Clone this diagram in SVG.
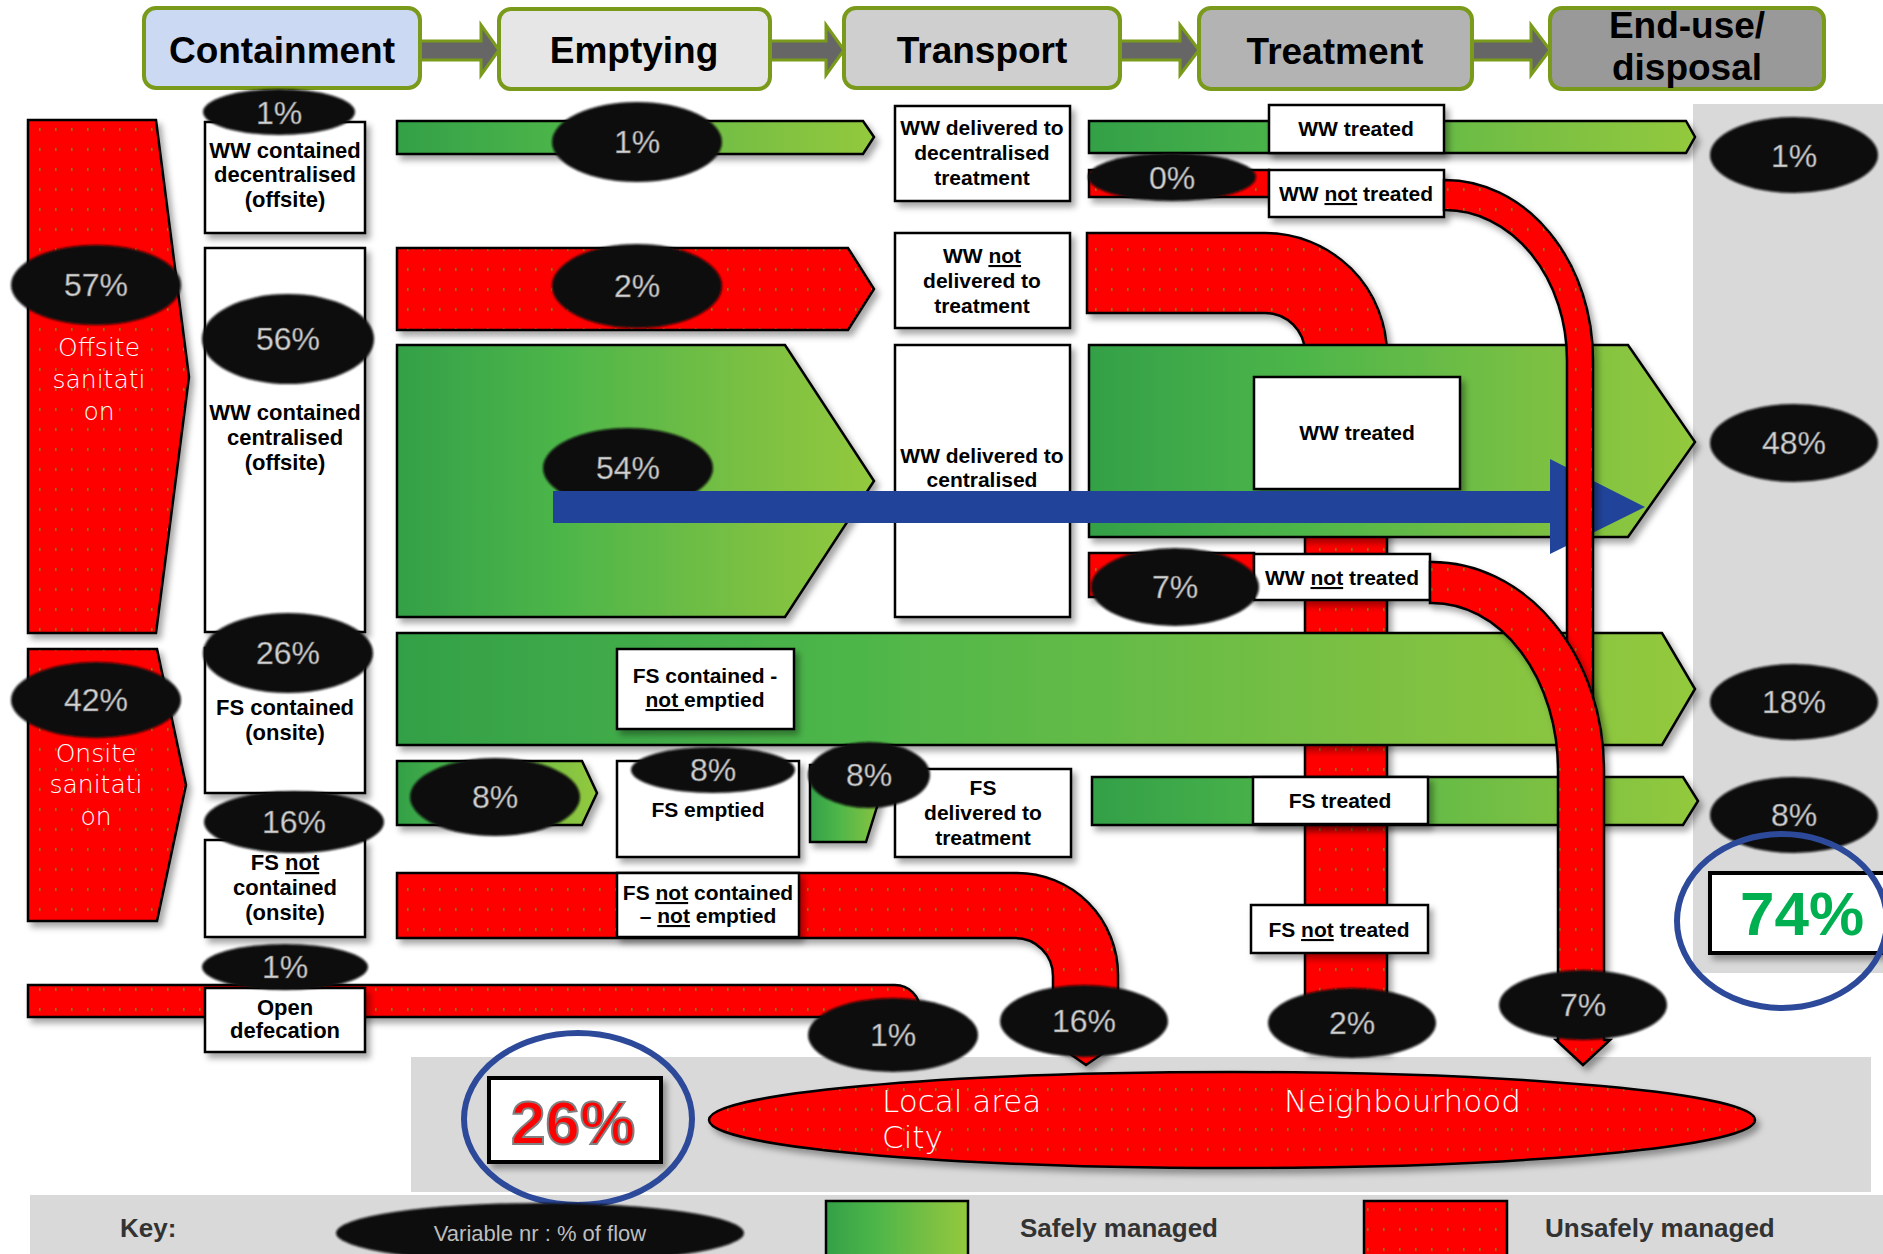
<svg xmlns="http://www.w3.org/2000/svg" width="1883" height="1254" viewBox="0 0 1883 1254">
<defs>
<style>
.hdr{stroke:#7A9A1B;stroke-width:4}
.htxt{font-family:"Liberation Sans",Arial,sans-serif;font-weight:bold;font-size:37px;fill:#000;text-anchor:middle}
.box{fill:#fff;stroke:#000;stroke-width:2.5;filter:url(#sh)}
.lbl{font-family:"Liberation Sans",Arial,sans-serif;font-weight:bold;font-size:21px;fill:#000;text-anchor:middle}
.lbl22{font-family:"Liberation Sans",Arial,sans-serif;font-weight:bold;font-size:22px;fill:#000;text-anchor:middle}
.red{fill:url(#dots);stroke:#000;stroke-width:2.5;filter:url(#sh)}
.grn{fill:url(#gg);stroke:#000;stroke-width:2.5;filter:url(#sh)}
.ell{fill:#0a0a0a;filter:url(#blur)}
.pct{font-family:"Liberation Sans",Arial,sans-serif;font-size:32px;fill:#d2d2d2;text-anchor:middle;stroke:#6a6a6a;stroke-width:0.6}
.wht{font-family:"DejaVu Sans",sans-serif;font-weight:200;fill:#fff}
.u{text-decoration:underline}
.keyt{font-family:"Liberation Sans",Arial,sans-serif;font-weight:bold;font-size:26px;fill:#333}
.ring{fill:none;stroke:#2D4A9A;stroke-width:6}
</style>
<filter id="sh" x="-10%" y="-10%" width="130%" height="150%"><feDropShadow dx="4" dy="5" stdDeviation="3" flood-color="#000" flood-opacity="0.35"/></filter>
<filter id="blur" x="-10%" y="-20%" width="120%" height="150%"><feGaussianBlur stdDeviation="1.3"/></filter>
<linearGradient id="gg" x1="0" y1="0" x2="1" y2="0"><stop offset="0" stop-color="#33A047"/><stop offset="0.35" stop-color="#4DB649"/><stop offset="0.75" stop-color="#7CC043"/><stop offset="1" stop-color="#93C93D"/></linearGradient>
<pattern id="dots" width="16" height="20" patternUnits="userSpaceOnUse"><rect width="16" height="20" fill="#FF0000"/><rect x="7" y="8" width="1.6" height="3" fill="#8A7A14"/></pattern>
</defs>

<g id="panels">
<rect x="1693" y="104" width="190" height="869" fill="#D9D9D9"/>
<rect x="411" y="1057" width="1460" height="135" fill="#D9D9D9"/>
<rect x="30" y="1195" width="1853" height="59" fill="#D9D9D9"/>
</g>

<g id="connectors" fill="#666" stroke="#7A9A1B" stroke-width="3">
<polygon points="420,41 481,41 481,25 499,50 481,75 481,60 420,60"/>
<polygon points="770,41 826,41 826,25 844,50 826,75 826,60 770,60"/>
<polygon points="1120,41 1180,41 1180,25 1199,50 1180,75 1180,60 1120,60"/>
<polygon points="1472,41 1531,41 1531,25 1550,50 1531,75 1531,60 1472,60"/>
</g>

<g id="hdr-containment"><rect x="144" y="8" width="276" height="80" rx="12" fill="#CCD9F2" class="hdr"/><text x="282" y="63" class="htxt">Containment</text></g>
<g id="hdr-emptying"><rect x="499" y="9" width="271" height="80" rx="12" fill="#E6E6E6" class="hdr"/><text x="634" y="63" class="htxt">Emptying</text></g>
<g id="hdr-transport"><rect x="844" y="8" width="276" height="80" rx="12" fill="#CFCFCF" class="hdr"/><text x="982" y="63" class="htxt">Transport</text></g>
<g id="hdr-treatment"><rect x="1199" y="8" width="273" height="81" rx="12" fill="#B3B3B3" class="hdr"/><text x="1335" y="64" class="htxt">Treatment</text></g>
<g id="hdr-enduse"><rect x="1550" y="8" width="274" height="81" rx="12" fill="#999999" class="hdr"/><text class="htxt" font-size="36"><tspan x="1687" y="38">End-use/</tspan><tspan x="1687" y="80">disposal</tspan></text></g>

<g id="flow-ww-not-delivered"><path class="red" d="M1087,233 H1265 A122,122 0 0 1 1387,355 V1050 H1305 V353 A40,40 0 0 0 1265,313 H1087 Z"/></g>

<g id="offsite"><polygon class="red" points="28,120 156,120 189,377 156,633 28,633"/><text class="wht" font-size="25" text-anchor="middle"><tspan x="99" y="356">Offsite</tspan><tspan x="99" y="388">sanitati</tspan><tspan x="99" y="420">on</tspan></text></g>
<g id="onsite"><polygon class="red" points="28,649 157,649 186,785 157,921 28,921"/><text class="wht" font-size="25" text-anchor="middle"><tspan x="96" y="762">Onsite</tspan><tspan x="96" y="793">sanitati</tspan><tspan x="96" y="825">on</tspan></text></g>

<g id="flow-ww-decentral-empty"><polygon class="grn" points="397,121 863,121 874,137 863,154 397,154"/></g>
<g id="flow-ww-central-notdelivered"><polygon class="red" points="397,248 848,248 874,289 848,330 397,330"/></g>
<g id="flow-ww-central-empty"><polygon class="grn" points="397,345 785,345 874,481 785,617 397,617"/></g>
<g id="flow-ww-decentral-treat"><polygon class="grn" points="1089,121 1686,121 1695,137 1686,153 1089,153"/><rect class="red" x="1089" y="170" width="180" height="27"/></g>
<g id="flow-ww-central-treat"><polygon class="grn" points="1089,345 1628,345 1695,442 1628,537 1089,537"/><rect class="red" x="1089" y="553" width="165" height="44"/></g>
<g id="flow-fs-notemptied"><polygon class="grn" points="397,633 1662,633 1695,689 1662,745 397,745"/></g>
<g id="flow-fs-emptied"><polygon class="grn" points="397,761 582,761 597,793 582,825 397,825"/><polygon class="grn" points="810,765 890,765 866,842 810,842"/></g>
<g id="flow-fs-treat"><polygon class="grn" points="1092,777 1683,777 1698,801 1683,825 1092,825"/></g>
<g id="flow-fs-notcontained"><path class="red" d="M397,873 H1017 A101,102 0 0 1 1118,975 V1040 H1122 L1086,1065 L1050,1040 H1053 V976 A38,38 0 0 0 1015,938 H397 Z"/></g>
<g id="flow-open-defecation"><path class="red" d="M28,985 H895 A25,25 0 0 1 920,1010 V1040 H887 V1017 H28 Z"/></g>

<g id="box-ww-decentral"><rect class="box" x="205" y="122" width="160" height="111"/><text class="lbl22"><tspan x="285" y="158">WW contained</tspan><tspan x="285" y="182">decentralised</tspan><tspan x="285" y="207">(offsite)</tspan></text></g>
<g id="box-ww-central"><rect class="box" x="205" y="248" width="160" height="384"/><text class="lbl22"><tspan x="285" y="420">WW contained</tspan><tspan x="285" y="445">centralised</tspan><tspan x="285" y="470">(offsite)</tspan></text></g>
<g id="box-fs-contained"><rect class="box" x="205" y="648" width="160" height="145"/><text class="lbl22"><tspan x="285" y="715">FS contained</tspan><tspan x="285" y="740">(onsite)</tspan></text></g>
<g id="box-fs-notcontained"><rect class="box" x="205" y="840" width="160" height="97"/><text class="lbl22"><tspan x="285" y="870">FS <tspan class="u">not</tspan></tspan><tspan x="285" y="895">contained</tspan><tspan x="285" y="920">(onsite)</tspan></text></g>
<g id="box-open-defecation"><rect class="box" x="205" y="988" width="160" height="64"/><text class="lbl22"><tspan x="285" y="1015">Open</tspan><tspan x="285" y="1038">defecation</tspan></text></g>

<g id="box-fs-notemptied"><rect class="box" x="617" y="649" width="177" height="80"/><text class="lbl"><tspan x="705" y="683">FS contained -</tspan><tspan x="705" y="707"><tspan class="u">not </tspan>emptied</tspan></text></g>
<g id="box-fs-emptied"><rect class="box" x="617" y="761" width="182" height="96"/><text class="lbl" x="708" y="817">FS emptied</text></g>
<g id="box-fs-nc-ne"><rect class="box" x="617" y="873" width="182" height="64"/><text class="lbl"><tspan x="708" y="900">FS <tspan class="u">not</tspan> contained</tspan><tspan x="708" y="923">– <tspan class="u">not</tspan> emptied</tspan></text></g>

<g id="box-ww-del-decentral"><rect class="box" x="895" y="106" width="175" height="95"/><text class="lbl"><tspan x="982" y="135">WW delivered  to</tspan><tspan x="982" y="160">decentralised</tspan><tspan x="982" y="185">treatment</tspan></text></g>
<g id="box-ww-notdelivered"><rect class="box" x="895" y="233" width="175" height="95"/><text class="lbl"><tspan x="982" y="263">WW <tspan class="u">not</tspan></tspan><tspan x="982" y="288">delivered  to</tspan><tspan x="982" y="313">treatment</tspan></text></g>
<g id="box-ww-del-central"><rect class="box" x="895" y="345" width="175" height="272"/><text class="lbl"><tspan x="982" y="463">WW delivered  to</tspan><tspan x="982" y="487">centralised</tspan></text></g>
<g id="box-fs-delivered"><rect class="box" x="895" y="769" width="176" height="88"/><text class="lbl"><tspan x="983" y="795">FS</tspan><tspan x="983" y="820">delivered  to</tspan><tspan x="983" y="845">treatment</tspan></text></g>

<g id="box-ww-treated-1"><rect class="box" x="1269" y="105" width="175" height="48"/><text class="lbl" x="1356" y="136">WW treated</text></g>
<g id="box-ww-nottreated-1"><rect class="box" x="1269" y="170" width="175" height="47"/><text class="lbl" x="1356" y="201">WW <tspan class="u">not</tspan> treated</text></g>
<g id="box-ww-treated-2"><rect class="box" x="1254" y="377" width="206" height="112"/><text class="lbl" x="1357" y="440">WW treated</text></g>
<g id="box-ww-nottreated-2"><rect class="box" x="1254" y="554" width="176" height="46"/><text class="lbl" x="1342" y="585">WW <tspan class="u">not</tspan> treated</text></g>
<g id="box-fs-treated"><rect class="box" x="1253" y="777" width="175" height="47"/><text class="lbl" x="1340" y="808">FS treated</text></g>
<g id="box-fs-nottreated"><rect class="box" x="1251" y="905" width="177" height="48"/><text class="lbl" x="1339" y="937">FS <tspan class="u">not</tspan> treated</text></g>

<g id="pct-labels">
<ellipse class="ell" cx="279" cy="112" rx="76" ry="23"/><text class="pct" x="279" y="124">1%</text>
<ellipse class="ell" cx="637" cy="142" rx="85" ry="40"/><text class="pct" x="637" y="153">1%</text>
<ellipse class="ell" cx="1172" cy="177" rx="84" ry="24"/><text class="pct" x="1172" y="189">0%</text>
<ellipse class="ell" cx="1794" cy="155" rx="84" ry="38"/><text class="pct" x="1794" y="167">1%</text>
<ellipse class="ell" cx="96" cy="285" rx="85" ry="40"/><text class="pct" x="96" y="296">57%</text>
<ellipse class="ell" cx="288" cy="339" rx="86" ry="45"/><text class="pct" x="288" y="350">56%</text>
<ellipse class="ell" cx="637" cy="286" rx="85" ry="42"/><text class="pct" x="637" y="297">2%</text>
<ellipse class="ell" cx="628" cy="468" rx="85" ry="40"/><text class="pct" x="628" y="479">54%</text>
<ellipse class="ell" cx="1794" cy="443" rx="84" ry="39"/><text class="pct" x="1794" y="454">48%</text>
<ellipse class="ell" cx="1175" cy="587" rx="84" ry="39"/><text class="pct" x="1175" y="598">7%</text>
<ellipse class="ell" cx="288" cy="653" rx="85" ry="40"/><text class="pct" x="288" y="664">26%</text>
<ellipse class="ell" cx="96" cy="700" rx="85" ry="38"/><text class="pct" x="96" y="711">42%</text>
<ellipse class="ell" cx="1794" cy="702" rx="84" ry="38"/><text class="pct" x="1794" y="713">18%</text>
<ellipse class="ell" cx="495" cy="797" rx="85" ry="39"/><text class="pct" x="495" y="808">8%</text>
<ellipse class="ell" cx="713" cy="770" rx="82" ry="23"/><text class="pct" x="713" y="781">8%</text>
<ellipse class="ell" cx="869" cy="775" rx="61" ry="33"/><text class="pct" x="869" y="786">8%</text>
<ellipse class="ell" cx="1794" cy="815" rx="84" ry="38"/><text class="pct" x="1794" y="826">8%</text>
<ellipse class="ell" cx="294" cy="822" rx="90" ry="31"/><text class="pct" x="294" y="833">16%</text>
<ellipse class="ell" cx="285" cy="967" rx="83" ry="23"/><text class="pct" x="285" y="978">1%</text>
<ellipse class="ell" cx="893" cy="1035" rx="85" ry="37"/><text class="pct" x="893" y="1046">1%</text>
<ellipse class="ell" cx="1084" cy="1021" rx="84" ry="36"/><text class="pct" x="1084" y="1032">16%</text>
<ellipse class="ell" cx="1352" cy="1023" rx="84" ry="35"/><text class="pct" x="1352" y="1034">2%</text>
</g>

<g id="overall-flow-arrow"><polygon fill="#21449A" points="553,491 1550,491 1550,459 1645,507 1550,554 1550,523 553,523"/></g>

<g id="flow-ww-decentral-nottreated"><path class="red" d="M1444,180 H1445 A148,180 0 0 1 1593,360 V1010 H1567 V360 A122,150 0 0 0 1445,210 H1444 Z"/></g>
<g id="flow-ww-central-nottreated"><path class="red" d="M1430,562 H1432 A172,208 0 0 1 1604,770 V1040 H1610 L1583,1065 L1556,1040 H1558 V770 A126,167 0 0 0 1432,603 H1430 Z"/></g>
<g id="pct-7-bottom"><ellipse class="ell" cx="1583" cy="1005" rx="84" ry="35"/><text class="pct" x="1583" y="1016">7%</text></g>

<g id="total-safe"><rect x="1710" y="873" width="190" height="80" fill="#fff" stroke="#000" stroke-width="4" filter="url(#sh)"/><text x="1802" y="935" font-family="Liberation Sans, Arial, sans-serif" font-weight="bold" font-size="62" fill="#00B050" text-anchor="middle">74%</text><ellipse class="ring" cx="1782" cy="921" rx="105" ry="87"/></g>

<g id="total-unsafe"><rect x="489" y="1078" width="172" height="84" fill="#fff" stroke="#000" stroke-width="4" filter="url(#sh)"/><text x="573" y="1144" font-family="Liberation Sans, Arial, sans-serif" font-weight="bold" font-size="62" fill="#FF0000" stroke="#808080" stroke-width="2" text-anchor="middle">26%</text><ellipse class="ring" cx="578" cy="1119" rx="114" ry="86"/></g>

<g id="local-area"><ellipse class="red" cx="1232" cy="1120" rx="523" ry="48"/><text class="wht" font-size="31"><tspan x="882" y="1112">Local area</tspan><tspan x="882" y="1148">City</tspan><tspan x="1284" y="1112">Neighbourhood</tspan></text></g>

<g id="key">
<text class="keyt" x="120" y="1237">Key:</text>
<ellipse class="ell" cx="540" cy="1233" rx="204" ry="30"/><text x="540" y="1241" font-family="Liberation Sans, Arial, sans-serif" font-size="22" fill="#bdbdbd" text-anchor="middle">Variable nr : % of flow</text>
<rect x="826" y="1201" width="142" height="60" fill="url(#gg)" stroke="#000" stroke-width="2.5"/>
<text class="keyt" x="1020" y="1237">Safely managed</text>
<rect x="1364" y="1201" width="143" height="60" fill="url(#dots)" stroke="#000" stroke-width="2.5"/>
<text class="keyt" x="1545" y="1237">Unsafely managed</text>
</g>
</svg>
